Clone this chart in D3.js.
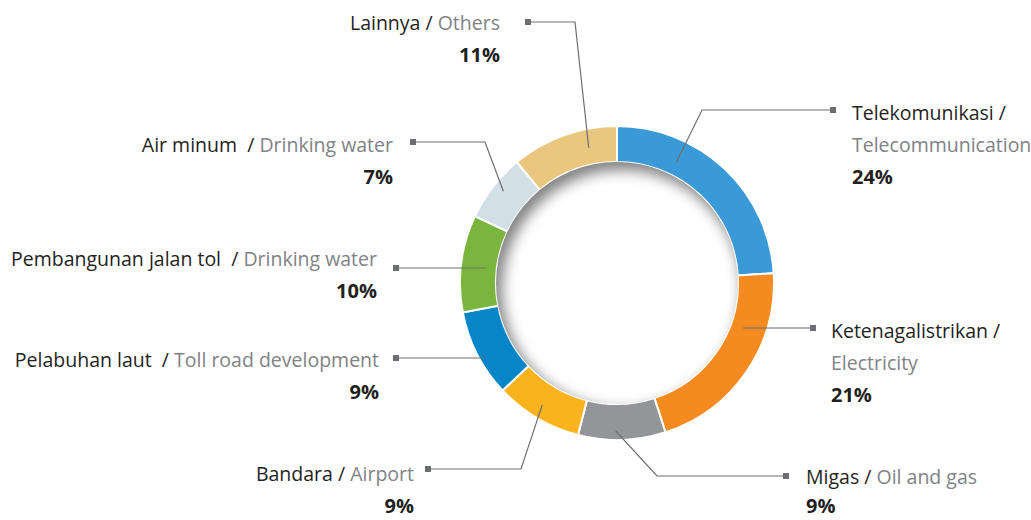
<!DOCTYPE html>
<meta charset="utf-8">
<style>
body { margin: 0; background: #fff; }
text { font-family: "Open Sans", sans-serif; font-size: 19.5px; white-space: pre; }
.name { fill: #231f20; }
.en { fill: #808285; }
.pct { font-weight: bold; font-size: 20px; fill: #231f20; }
.leader { fill: none; stroke: #6d6e71; stroke-width: 1.2px; }
.tip { fill: #6d6e71; }
</style>
<body>
<svg width="1031" height="520"></svg>
<script src="https://d3js.org/d3.v7.min.js"></script>
<script>
// sector shares, clockwise from 12 o'clock
var sectorsId = ["Telekomunikasi", "Ketenagalistrikan", "Migas", "Bandara", "Pelabuhan laut ", "Pembangunan jalan tol ", "Air minum ", "Lainnya"];
var sectorsEn = ["Telecommunication", "Electricity", "Oil and gas", "Airport", "Toll road development", "Drinking water", "Drinking water", "Others"];
var shares = [24, 21, 9, 9, 9, 10, 7, 11];
var colors = ["#3a9ad8", "#f58b20", "#939598", "#fbb31d", "#0785c9", "#7ab63e", "#d2dfe6", "#eac77f"];

// label layout: text x / first baseline, gap to % line, square tip, elbow x, leader end (angle deg, radius)
var labelLayout = [
  {side: "right", x: 852, y: 120, gap: 32, wrap: true,  tip: [833, 110], elbow: 702, ang: 26.2,  r: 134},
  {side: "right", x: 831, y: 338, gap: 32, wrap: true,  tip: [813, 328], elbow: null, ang: 109.5, r: 134},
  {side: "right", x: 806, y: 484, gap: 29, wrap: false, tip: [786, 476], elbow: 657, ang: 180.5, r: 148},
  {side: "left",  x: 414, y: 481, gap: 32, wrap: false, tip: [428, 469], elbow: 521, ang: 211.5, r: 143},
  {side: "left",  x: 379, y: 367, gap: 32, wrap: false, tip: [396, 358], elbow: null, ang: 240.6, r: 151},
  {side: "left",  x: 377, y: 266, gap: 32, wrap: false, tip: [396, 268], elbow: null, ang: 276.8, r: 132},
  {side: "left",  x: 393, y: 152, gap: 32, wrap: false, tip: [413, 142], elbow: 485, ang: 308.9, r: 146},
  {side: "left",  x: 500, y: 30,  gap: 32, wrap: false, tip: [528, 22],  elbow: 575, ang: 348.2, r: 138}
];

var svg = d3.select("svg"),
    cx = 617, cy = 283,
    outerR = 157, innerR = 121;

var defs = svg.append("defs");
defs.append("clipPath").attr("id", "hole")
  .append("circle").attr("r", innerR);
defs.append("filter").attr("id", "soft")
    .attr("x", "-50%").attr("y", "-50%").attr("width", "200%").attr("height", "200%")
  .append("feGaussianBlur").attr("stdDeviation", 7);

var g = svg.append("g")
    .attr("transform", "translate(" + cx + "," + cy + ")");

var pie = d3.pie().sort(null).value(function(d) { return d; });
var arc = d3.arc().innerRadius(innerR).outerRadius(outerR);

g.selectAll("path.slice")
    .data(pie(shares))
  .enter().append("path")
    .attr("class", "slice")
    .attr("d", arc)
    .attr("fill", function(d, i) { return colors[i]; })
    .attr("stroke", "#fff")
    .attr("stroke-width", 2);

// inner shadow cast by the ring into the hole
g.append("g")
    .attr("clip-path", "url(#hole)")
  .append("circle")
    .attr("cx", 5)
    .attr("cy", 7)
    .attr("r", innerR + 10)
    .attr("fill", "none")
    .attr("stroke", "#000")
    .attr("stroke-opacity", 0.5)
    .attr("stroke-width", 22)
    .attr("filter", "url(#soft)");

// leaders and labels
labelLayout.forEach(function(L, i) {
  var end = d3.pointRadial(L.ang * Math.PI / 180, L.r);
  end = [end[0] + cx, end[1] + cy];
  var pts = [L.tip];
  if (L.elbow !== null) pts.push([L.elbow, L.tip[1]]);
  pts.push(end);
  if (L.elbow === null) pts[pts.length - 1] = [end[0], L.tip[1]];

  svg.append("path")
      .attr("class", "leader")
      .attr("d", d3.line()(pts));
  svg.append("rect")
      .attr("class", "tip")
      .attr("x", L.tip[0] - 3)
      .attr("y", L.tip[1] - 3)
      .attr("width", 6)
      .attr("height", 6);

  var anchor = L.side === "right" ? "start" : "end";
  var t = svg.append("text")
      .attr("x", L.x)
      .attr("y", L.y)
      .attr("text-anchor", anchor);
  if (L.wrap) {
    t.append("tspan").attr("class", "name").text(sectorsId[i] + " /");
    svg.append("text")
        .attr("class", "en")
        .attr("x", L.x)
        .attr("y", L.y + L.gap)
        .attr("text-anchor", anchor)
        .text(sectorsEn[i]);
  } else {
    t.append("tspan").attr("class", "name").text(sectorsId[i] + " / ");
    t.append("tspan").attr("class", "en").text(sectorsEn[i]);
  }
  svg.append("text")
      .attr("class", "pct")
      .attr("x", L.x)
      .attr("y", L.y + (L.wrap ? 2 * L.gap : L.gap))
      .attr("text-anchor", anchor)
      .text(shares[i] + "%");
});
</script>
</body>
